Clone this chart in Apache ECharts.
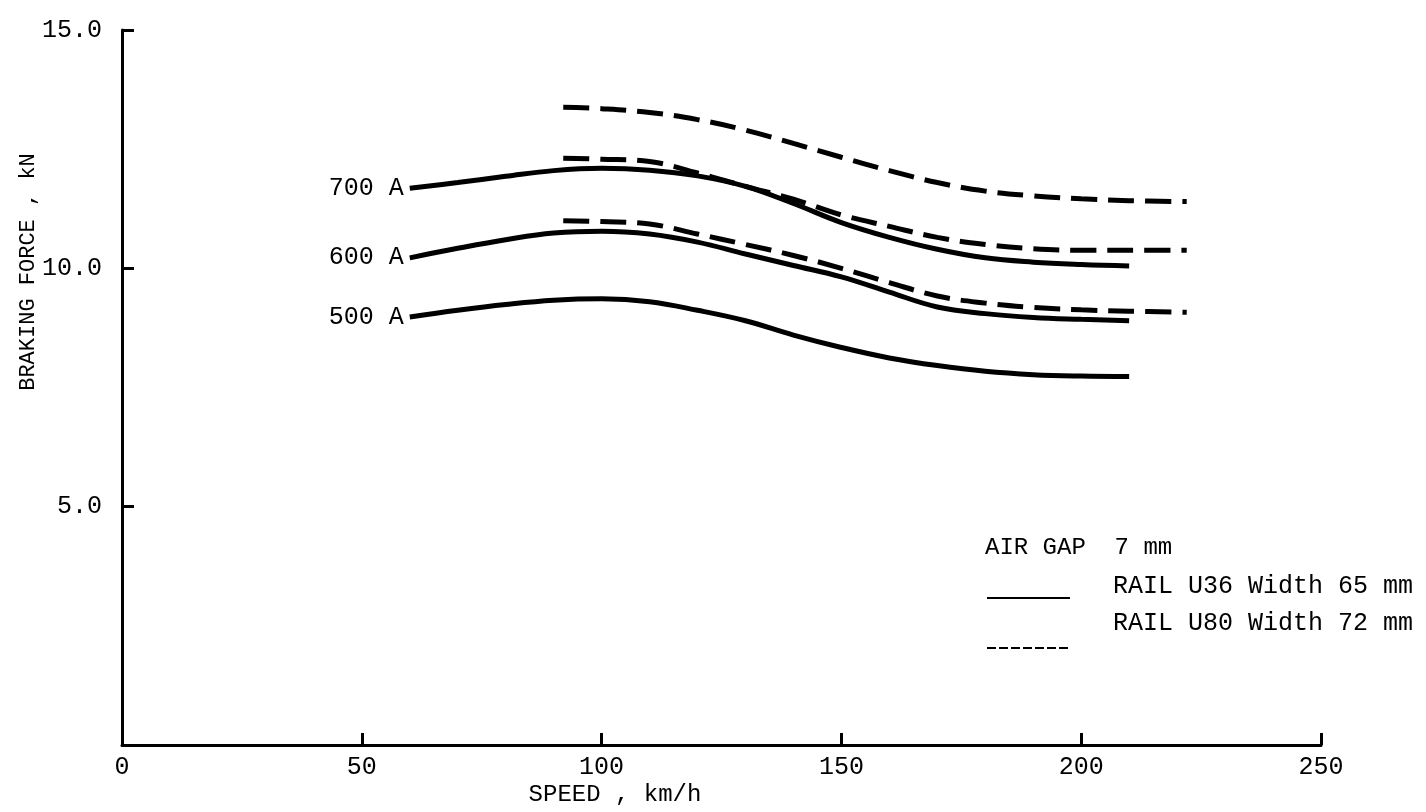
<!DOCTYPE html>
<html>
<head>
<meta charset="utf-8">
<script src="https://cdn.jsdelivr.net/npm/echarts@6/dist/echarts.min.js"></script>
<style>
html, body { margin: 0; padding: 0; background: #fff; }
#chart1 { width: 1426px; height: 812px; }
</style>
</head>
<body>
<div id="chart1"></div>
<script>
var speedSolid = [60, 70, 80, 90, 100, 110, 120, 130, 140, 150, 160, 170, 180, 190, 200, 210];
var force700Solid = [11.68, 11.8, 11.93, 12.05, 12.1, 12.06, 11.94, 11.72, 11.36, 10.96, 10.65, 10.4, 10.22, 10.13, 10.08, 10.05];
var force600Solid = [10.22, 10.42, 10.6, 10.74, 10.78, 10.72, 10.55, 10.3, 10.06, 9.82, 9.5, 9.19, 9.05, 8.97, 8.93, 8.9];
var force500Solid = [8.98, 9.12, 9.24, 9.33, 9.36, 9.3, 9.12, 8.9, 8.6, 8.34, 8.12, 7.96, 7.84, 7.77, 7.74, 7.73];

var speedDash = [92, 100, 110, 120, 130, 140, 150, 160, 170, 180, 190, 200, 210, 222];
var force700Dash = [13.38, 13.35, 13.27, 13.12, 12.9, 12.62, 12.33, 12.05, 11.8, 11.62, 11.52, 11.46, 11.42, 11.4];
var force600Dash = [12.31, 12.29, 12.24, 12.0, 11.72, 11.45, 11.12, 10.88, 10.65, 10.5, 10.41, 10.38, 10.38, 10.38];
var force500Dash = [11.0, 10.98, 10.93, 10.72, 10.5, 10.27, 10.0, 9.7, 9.42, 9.27, 9.18, 9.13, 9.1, 9.08];

var currentLabels = ['700 A', '600 A', '500 A'];
var railU36 = 'RAIL U36 Width 65 mm';
var railU80 = 'RAIL U80 Width 72 mm';

var font = '"Liberation Mono", "DejaVu Sans Mono", monospace';

function pairs(xs, ys, label) {
    return xs.map(function (x, i) {
        var item = { value: [x, ys[i]] };
        if (label && i === 0) {
            item.label = {
                show: true, position: 'left', distance: 6, formatter: label,
                color: '#000', fontFamily: font, fontSize: 25
            };
        }
        return item;
    });
}

function line(name, data, dashed) {
    return {
        name: name,
        type: 'line',
        smooth: 0.4,
        symbol: 'circle',
        symbolSize: 0,
        showSymbol: true,
        silent: true,
        data: data,
        lineStyle: { color: '#000', width: 5, type: dashed ? [26, 11] : 'solid', cap: 'butt' }
    };
}

var myChart1 = echarts.init(document.getElementById('chart1'));
myChart1.setOption({
    backgroundColor: '#fff',
    animation: false,
    grid: { left: 122, right: 105, top: 30, bottom: 67 },
    xAxis: {
        type: 'value', min: 0, max: 250, interval: 50,
        axisLine: { lineStyle: { color: '#000', width: 3 } },
        axisTick: { inside: true, length: 12, lineStyle: { color: '#000', width: 3 } },
        axisLabel: { color: '#000', fontFamily: font, fontSize: 25, margin: 10 },
        splitLine: { show: false }
    },
    yAxis: {
        type: 'value', min: 0, max: 15, interval: 5,
        axisLine: { show: true, lineStyle: { color: '#000', width: 3 } },
        axisTick: { show: true, inside: true, length: 12, lineStyle: { color: '#000', width: 3 } },
        axisLabel: {
            color: '#000', fontFamily: font, fontSize: 25, margin: 20,
            formatter: function (v) { return v === 0 ? '' : v.toFixed(1); }
        },
        splitLine: { show: false }
    },
    series: [
        line(railU36, pairs(speedSolid, force700Solid, currentLabels[0]), false),
        line(railU36, pairs(speedSolid, force600Solid, currentLabels[1]), false),
        line(railU36, pairs(speedSolid, force500Solid, currentLabels[2]), false),
        line(railU80, pairs(speedDash, force700Dash), true),
        line(railU80, pairs(speedDash, force600Dash), true),
        line(railU80, pairs(speedDash, force500Dash), true)
    ],
    graphic: [
        {
            type: 'text', x: 28, y: 272, rotation: Math.PI / 2,
            style: { text: 'BRAKING FORCE , kN', fill: '#000', font: '22px ' + font, align: 'center', verticalAlign: 'middle' }
        },
        {
            type: 'text', x: 615, y: 795,
            style: { text: 'SPEED , km/h', fill: '#000', font: '24px ' + font, align: 'center', verticalAlign: 'middle' }
        },
        {
            type: 'text', x: 985, y: 548,
            style: { text: 'AIR GAP  7 mm', fill: '#000', font: '24px ' + font, verticalAlign: 'middle' }
        },
        {
            type: 'line', shape: { x1: 987, y1: 598, x2: 1070, y2: 598 },
            style: { stroke: '#000', lineWidth: 2 }
        },
        {
            type: 'text', x: 1113, y: 586,
            style: { text: railU36, fill: '#000', font: '25px ' + font, verticalAlign: 'middle' }
        },
        {
            type: 'line', shape: { x1: 987, y1: 648, x2: 1070, y2: 648 },
            style: { stroke: '#000', lineWidth: 2, lineDash: [9, 3] }
        },
        {
            type: 'text', x: 1113, y: 623,
            style: { text: railU80, fill: '#000', font: '25px ' + font, verticalAlign: 'middle' }
        }
    ]
});
</script>
</body>
</html>
